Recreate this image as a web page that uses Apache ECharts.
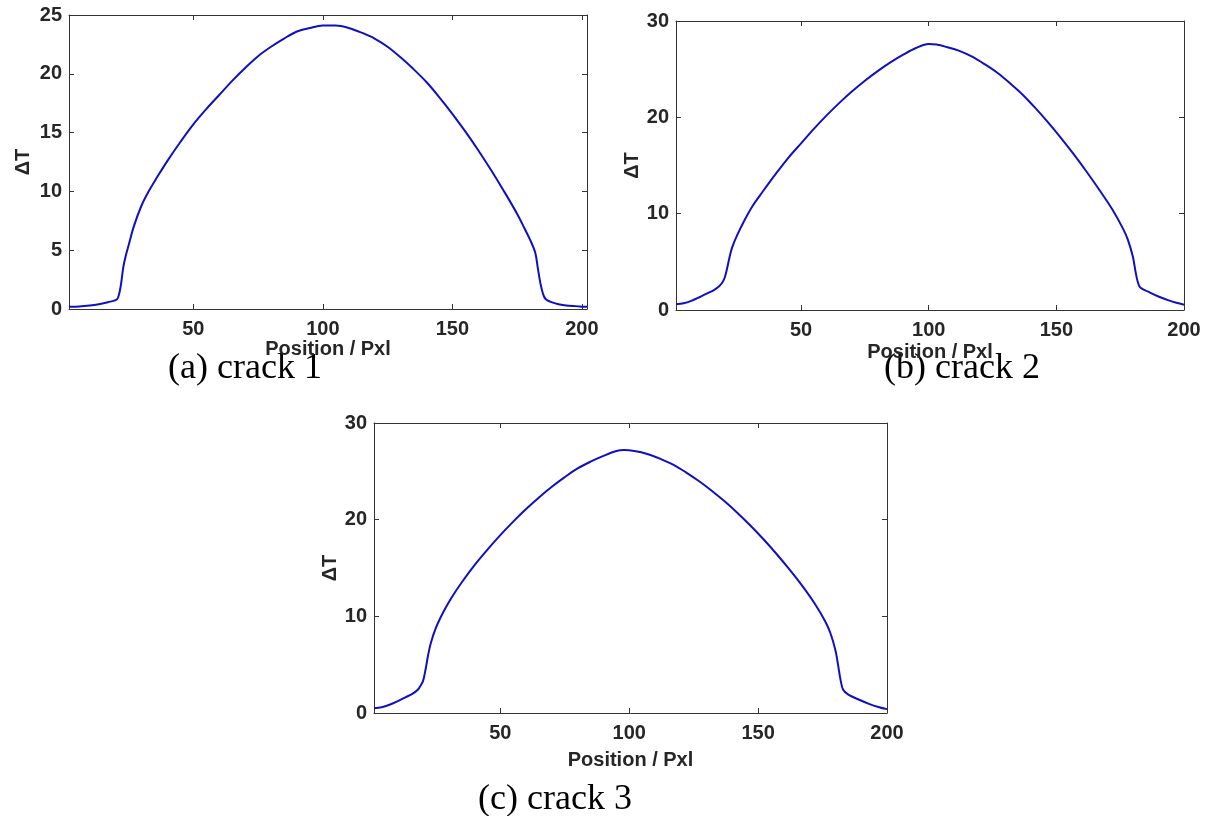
<!DOCTYPE html>
<html>
<head>
<meta charset="utf-8">
<script src="https://cdn.jsdelivr.net/npm/echarts@6/dist/echarts.min.js"></script>
<style>html,body{margin:0;padding:0;background:#fff}#c{width:1212px;height:816px}</style>
</head>
<body>
<div id="c"></div>
<script>
// ---- data ----
const xTicks = [50, 100, 150, 200];
const captions = ['(a) crack 1', '(b) crack 2', '(c) crack 3'];
const xName = 'Position / Pxl';
const yName = 'ΔT';

const posA = [2,6,10,14,17,20,21,22,23,24,25,27,30,33,36,40,45,50,55,60,65,70,75,80,85,90,95,100,105,110,115,120,125,130,135,140,145,150,155,160,165,170,175,178,180,182,183,184,185,186,188,191,195,199,202];
const dtA  = [0.20,0.22,0.30,0.42,0.58,0.75,1.0,2.0,3.6,4.6,5.4,7.0,8.8,10.1,11.2,12.6,14.2,15.7,17.0,18.2,19.4,20.5,21.5,22.3,23.0,23.6,23.9,24.1,24.1,23.9,23.5,23.0,22.3,21.4,20.4,19.3,18.0,16.6,15.1,13.5,11.8,10.0,8.1,6.8,5.9,4.8,3.5,2.2,1.3,0.85,0.6,0.4,0.28,0.22,0.2];

const posB = [1,4,7,10,13,16,18,19,20,21,22,23,25,28,31,35,40,45,50,55,60,65,70,75,80,85,90,95,100,103,107,112,117,122,127,132,137,142,147,152,157,162,167,172,176,178,180,181,182,183,186,190,194,197,200];
const dtB  = [0.6,0.7,0.95,1.3,1.7,2.1,2.5,2.8,3.3,4.3,5.5,6.5,7.8,9.4,10.8,12.3,14.1,15.8,17.3,18.8,20.2,21.5,22.7,23.8,24.8,25.7,26.5,27.2,27.6,27.55,27.3,26.9,26.3,25.5,24.6,23.5,22.3,20.9,19.4,17.8,16.1,14.3,12.4,10.4,8.5,7.3,5.5,4.0,2.8,2.3,1.9,1.4,1.0,0.75,0.55];

const posC = [1,4,7,10,13,16,18,19,20,21,22,23,25,28,31,35,40,45,50,55,60,65,70,75,80,85,90,95,98,102,107,112,117,122,127,132,137,142,147,152,157,162,167,172,176,178,180,181,182,183,185,189,193,197,200];
const dtC  = [0.5,0.6,0.85,1.2,1.6,2.0,2.4,2.8,3.3,4.5,6.0,7.2,8.8,10.5,11.9,13.5,15.3,16.9,18.4,19.8,21.1,22.3,23.4,24.4,25.3,26.0,26.6,27.1,27.2,27.1,26.8,26.3,25.7,24.9,24.0,23.0,21.9,20.7,19.4,18.0,16.5,14.9,13.2,11.3,9.5,8.3,6.5,5.0,3.4,2.4,1.9,1.4,0.95,0.6,0.4];

// ---- layout ----
const panels = [
  {pos: posA, dt: dtA, xmin: 2, xmax: 202, ymax: 25, yint: 5, grid: {left: 69, top: 15, width: 518, height: 294}, xGap: 26, yGap: 36, cap: [245, 369]},
  {pos: posB, dt: dtB, xmin: 1, xmax: 200, ymax: 30, yint: 10, grid: {left: 676, top: 21, width: 508, height: 289}, xGap: 32, yGap: 33, cap: [962, 369]},
  {pos: posC, dt: dtC, xmin: 1, xmax: 200, ymax: 30, yint: 10, grid: {left: 374, top: 423, width: 513, height: 290}, xGap: 37, yGap: 30, cap: [555, 800]}
];

const axisCol = '#333333';
const labelStyle = {color: '#262626', fontFamily: 'Liberation Sans, Arial, sans-serif', fontWeight: 'bold', fontSize: 20};

const grids = [], xAxes = [], yAxes = [], series = [], graphics = [];
panels.forEach((p, i) => {
  grids.push(Object.assign({containLabel: false}, p.grid));
  const common = {type: 'value', gridIndex: i, splitLine: {show: false},
    axisLine: {show: true, onZero: false, lineStyle: {color: axisCol, width: 1}}};
  xAxes.push(Object.assign({}, common, {
    position: 'bottom', min: p.xmin, max: p.xmax,
    name: xName, nameLocation: 'middle', nameGap: p.xGap,
    nameTextStyle: Object.assign({}, labelStyle, {verticalAlign: 'top'}),
    axisTick: {show: true, inside: true, length: 5, customValues: xTicks, lineStyle: {color: axisCol}},
    axisLabel: Object.assign({show: true, margin: 10, customValues: xTicks, showMinLabel: true, showMaxLabel: true}, labelStyle)
  }));
  xAxes.push(Object.assign({}, common, {
    position: 'top', min: p.xmin, max: p.xmax,
    axisTick: {show: true, inside: true, length: 5, customValues: xTicks, lineStyle: {color: axisCol}},
    axisLabel: {show: false}
  }));
  yAxes.push(Object.assign({}, common, {
    position: 'left', min: 0, max: p.ymax, interval: p.yint,
    name: yName, nameLocation: 'middle', nameGap: p.yGap, nameRotate: 90,
    nameTextStyle: labelStyle,
    axisTick: {show: true, inside: true, length: 5, lineStyle: {color: axisCol}},
    axisLabel: Object.assign({show: true, margin: 7}, labelStyle)
  }));
  yAxes.push(Object.assign({}, common, {
    position: 'right', min: 0, max: p.ymax, interval: p.yint,
    axisTick: {show: true, inside: true, length: 5, lineStyle: {color: axisCol}},
    axisLabel: {show: false}
  }));
  series.push({
    type: 'line', xAxisIndex: 2 * i, yAxisIndex: 2 * i,
    data: p.pos.map((x, k) => [x, p.dt[k]]),
    showSymbol: false, smooth: 0.35,
    lineStyle: {color: '#1010c0', width: 2}, silent: true, animation: false
  });
  graphics.push({
    type: 'text', x: p.cap[0], y: p.cap[1],
    style: {text: captions[i], fontFamily: 'Liberation Serif, Times New Roman, serif', fontSize: 36,
      fill: '#000', textAlign: 'center', textVerticalAlign: 'middle'}
  });
});

const chart = echarts.init(document.getElementById('c'), null, {renderer: 'canvas'});
chart.setOption({
  backgroundColor: '#fff',
  animation: false,
  grid: grids, xAxis: xAxes, yAxis: yAxes, series: series, graphic: graphics
});
</script>
</body>
</html>
